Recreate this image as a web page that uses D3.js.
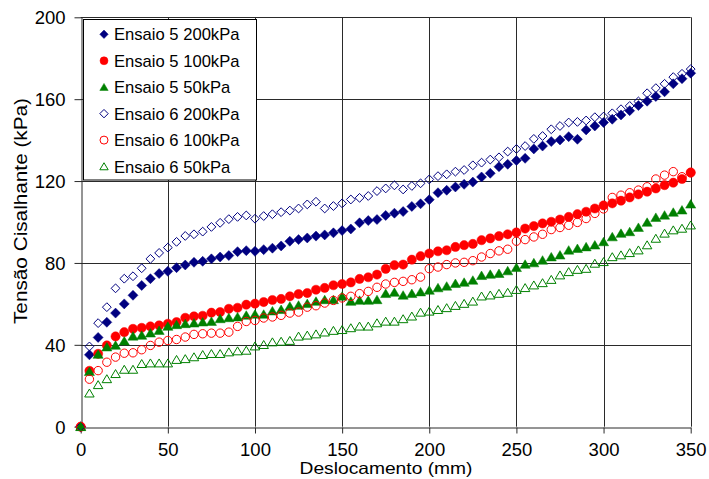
<!DOCTYPE html>
<html><head><meta charset="utf-8">
<script src="https://cdn.jsdelivr.net/npm/d3@7"></script>
<style>body{margin:0;background:#fff}svg{display:block}text{font-family:"Liberation Sans",Arial,sans-serif;fill:#000}</style>
</head><body><svg id="c" width="709" height="479"></svg>
<script>
const displacement = [0,5,10,15,20,25,30,35,40,45,50,55,60,65,70,75,80,85,90,95,100,105,110,115,120,125,130,135,140,145,150,155,160,165,170,175,180,185,190,195,200,205,210,215,220,225,230,235,240,245,250,255,260,265,270,275,280,285,290,295,300,305,310,315,320,325,330,335,340,345,350];
const e5_200 = [0,35.1,43.6,51,55.5,60,64.2,69,72.3,74.8,75.9,77.7,79,80.3,80.8,82,82.9,83.6,85.5,86,85.7,86.5,87.2,88.3,90.6,91.4,92.2,93.1,93.7,94.7,95.8,96.6,99.6,100.7,101.2,103.2,104.3,105.1,107.6,108.9,110.9,114.3,115.5,117.1,118.4,119.5,122,123.8,127,128.2,130,131.1,135.7,137.1,139.3,140.1,141.7,140.4,145,146.9,148.6,150.2,152.3,154.4,156.9,159,161.3,163.6,167.5,170,172.7];
const e5_100 = [0,27.3,35.6,39.7,44.1,46.2,47.8,48.3,49,49.5,50.3,51.1,53.2,53.9,54.2,55.7,56,57.6,58.1,59.6,60.1,60.9,61.9,62.4,63.7,64.8,65.3,66.9,67.8,69.1,69.7,70.5,72.2,73,74.3,77.1,78.9,79.2,81.6,83.3,84.6,85.7,86.2,87.8,88.7,89.3,91.1,92,93.1,94,94.9,96.8,98,99.3,100.1,101.2,102.5,103.8,105,106.6,108.1,109.1,110.4,112,113.5,114.8,116.4,118,119.2,121,124.2];
const e5_50 = [0,26.9,35.3,38.9,39.7,41.8,44.2,44.6,45.7,47,49,49.8,50.3,50.6,51.1,51.4,52.7,53.2,53.6,54.4,54.9,54.9,56.5,57.2,58.8,59.3,60.1,61.2,62,62,63.7,61.2,61.7,61.7,62,65,65.6,64.2,65,65.8,66.6,67.8,68.6,69.9,70.5,71.5,73.8,74.4,74.8,76.1,77.7,79.3,80,81.3,82.9,83.8,86.2,87,87.8,88.7,90.3,92.7,94.4,95.2,97.3,99.8,102.2,103.3,104.7,105.8,108.7];
const e6_200 = [0,39.2,50.6,58.4,67.6,72.3,73.5,77.4,82,84.9,87.5,90.3,93.2,94,95.3,97.6,99.6,101.4,102.5,103.2,101.6,102.9,103.8,104.8,105.6,106.6,108.6,109.9,106.6,107.8,109.1,111,111.8,112.7,115.1,116.4,117.9,115.9,117.6,118.9,120.8,122.4,123.3,124.6,125.4,127.7,129,130.5,131.6,134.4,135.7,137.1,140.6,142,145.3,146.9,148.6,148.9,149.6,151.2,151.5,153.1,155.1,156.7,158.9,162.9,165.4,167.5,170.8,172.4,174.7];
const e6_100 = [0,23.2,27.4,31.5,34,35.9,36.1,37.6,39.7,41.3,42.1,42.6,43.8,45.1,45.4,45.7,45.7,46.2,49,51.4,51.9,53.1,53.6,54.4,55.5,56,58.4,59.1,60.4,61.7,62.9,63.7,65,66.1,68.1,69.7,70.5,71,71.8,73.1,77.2,78,79.2,80,80.3,81.1,82.9,84.6,85.9,86.7,90.6,91.4,92.7,94,96.3,97.3,98.4,99.8,101.7,104.2,106.4,112,113.1,114.3,115.6,117.2,121,122.9,124.6,122.1,124];
const e6_50 = [0,16.3,20.4,23.3,25.8,27.9,27.9,30.7,31,31,31,32.7,33.1,34,35.1,35.6,35.6,36.4,36.9,37.2,39.3,40,41.3,41.6,42,44.1,44.6,45.2,46.1,46.9,47.3,48.2,49,49,50.6,51.4,51.4,52.6,53.9,55.8,56.3,57.1,58,59.1,60.1,61.2,63.7,64.2,65,65.5,66.9,67.8,69.1,70.2,71.8,74,75.6,76.7,77.2,79.7,80.5,82.9,83.8,84.9,86.2,88.7,91.9,94.4,96,96.8,98.4];
const seriesNames = ["Ensaio 5 200kPa","Ensaio 5 100kPa","Ensaio 5 50kPa","Ensaio 6 200kPa","Ensaio 6 100kPa","Ensaio 6 50kPa"];
const xTicks = [0,50,100,150,200,250,300,350];
const yTicks = [0,40,80,120,160,200];
const xTitle = "Deslocamento (mm)";
const yTitle = "Tensão Cisalhante (kPa)";

const seriesData = [e5_200,e5_100,e5_50,e6_200,e6_100,e6_50];
const styles = [
  {shape:"diamond",color:"#000080",filled:true},
  {shape:"circle",color:"#ff0000",filled:true},
  {shape:"triangle",color:"#008000",filled:true},
  {shape:"diamond",color:"#000080",filled:false},
  {shape:"circle",color:"#ff0000",filled:false},
  {shape:"triangle",color:"#008000",filled:false}
];

const svg = d3.select("#c");
const x = d3.scaleLinear().domain([0,350]).range([80.7,690.7]);
const y = d3.scaleLinear().domain([0,200]).range([426.7,17.3]);

// gridlines
const grid = svg.append("g");
grid.selectAll("line.h").data(yTicks.slice(1)).join("line")
  .attr("x1",x(0)).attr("x2",x(350)).attr("y1",d=>Math.round(y(d))+0.5).attr("y2",d=>Math.round(y(d))+0.5)
  .attr("stroke","#2a2a2a").attr("stroke-width",1);
grid.selectAll("line.v").data(xTicks.slice(1)).join("line")
  .attr("y1",y(0)).attr("y2",y(200)).attr("x1",d=>Math.round(x(d))+0.5).attr("x2",d=>Math.round(x(d))+0.5)
  .attr("stroke","#2a2a2a").attr("stroke-width",1);

// axes
const xAxis = svg.append("g").attr("transform",`translate(0,${Math.round(y(0))+0.5})`)
  .call(d3.axisBottom(x).tickValues(xTicks).tickSize(6).tickSizeOuter(0).tickPadding(9));
const yAxis = svg.append("g").attr("transform",`translate(${Math.round(x(0))+0.5},0)`)
  .call(d3.axisLeft(y).tickValues(yTicks).tickSize(7).tickSizeOuter(0).tickPadding(9));
[xAxis,yAxis].forEach(a=>{
  a.select(".domain").attr("stroke","#2a2a2a");
  a.selectAll(".tick line").attr("stroke","#2a2a2a");
  a.selectAll(".tick text").attr("font-size","18.5px").attr("font-family","Liberation Sans, Arial, sans-serif").attr("fill","#000");
});
xAxis.selectAll(".tick text").attr("dy","0.71em");
yAxis.selectAll(".tick text").attr("dy","0.35em");

// symbols
function symPath(shape, s){
  if(shape==="diamond") return `M0,${-s}L${s},0L0,${s}L${-s},0Z`;
  if(shape==="triangle") return `M0,${-s}L${s*1.1},${s*0.85}L${-s*1.1},${s*0.85}Z`;
  return d3.arc()({innerRadius:0,outerRadius:s,startAngle:0,endAngle:2*Math.PI});
}
const markerSize = {diamond:[5,4.4],circle:[4.6,4.2],triangle:[4.6,4.3]};

seriesData.forEach((vals,i)=>{
  const st = styles[i];
  const s = st.filled ? markerSize[st.shape][0] : markerSize[st.shape][1];
  svg.append("g").selectAll("path").data(vals.map((v,j)=>({x:displacement[j],v}))).join("path")
    .attr("transform",d=>`translate(${x(d.x)},${y(d.v)})`)
    .attr("d",symPath(st.shape,s))
    .attr("fill",st.filled?st.color:"none")
    .attr("stroke",st.color)
    .attr("stroke-width",st.filled?0.5:1);
});

// legend
const lg = svg.append("g");
lg.append("rect").attr("x",83.5).attr("y",19.5).attr("width",173).attr("height",160.5)
  .attr("fill","#fff").attr("stroke","#000").attr("stroke-width",1);
seriesNames.forEach((name,i)=>{
  const st = styles[i];
  const cy = 34.3 + i*26.45;
  const s = st.shape==="circle"?4:(st.shape==="diamond"?4.2:3.8);
  lg.append("path").attr("transform",`translate(104,${cy})`).attr("d",symPath(st.shape,s))
    .attr("fill",st.filled?st.color:"none").attr("stroke",st.color).attr("stroke-width",st.filled?0.5:1);
  lg.append("text").attr("x",114).attr("y",cy).attr("dy","0.36em").attr("font-size","16.6px").text(name);
});

// titles
svg.append("text").attr("x",386).attr("y",473.5).attr("text-anchor","middle").attr("font-size","16.5px")
  .attr("textLength",173).attr("lengthAdjust","spacingAndGlyphs").text(xTitle);
svg.append("text").attr("transform","translate(27,211) rotate(-90)").attr("text-anchor","middle").attr("font-size","18px")
  .attr("textLength",226).attr("lengthAdjust","spacingAndGlyphs").text(yTitle);
</script></body></html>
